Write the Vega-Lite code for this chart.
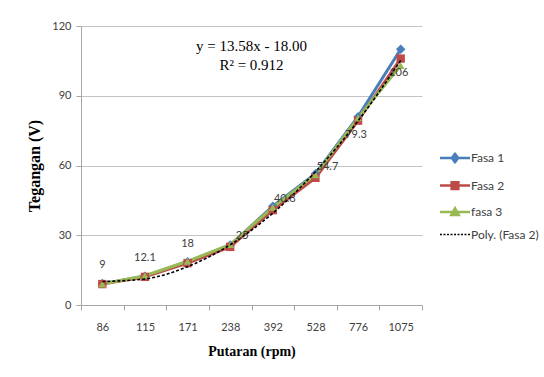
{
  "$schema": "https://vega.github.io/schema/vega-lite/v6.json",
  "width": 341,
  "height": 279,
  "autosize": {"type": "none"},
  "padding": {"left": 81, "top": 26, "right": 122, "bottom": 72},
  "background": "white",
  "config": {"view": {"stroke": null}, "font": "Lato"},
  "data": {
    "values": [
      {"rpm": "86", "series": "Fasa 1", "v": 9.2},
      {"rpm": "115", "series": "Fasa 1", "v": 12.4},
      {"rpm": "171", "series": "Fasa 1", "v": 18.6},
      {"rpm": "238", "series": "Fasa 1", "v": 25.8},
      {"rpm": "392", "series": "Fasa 1", "v": 42.5},
      {"rpm": "528", "series": "Fasa 1", "v": 56.5},
      {"rpm": "776", "series": "Fasa 1", "v": 81},
      {"rpm": "1075", "series": "Fasa 1", "v": 110},
      {"rpm": "86", "series": "Fasa 2", "v": 9},
      {"rpm": "115", "series": "Fasa 2", "v": 12.1},
      {"rpm": "171", "series": "Fasa 2", "v": 18},
      {"rpm": "238", "series": "Fasa 2", "v": 25},
      {"rpm": "392", "series": "Fasa 2", "v": 40.8},
      {"rpm": "528", "series": "Fasa 2", "v": 54.7},
      {"rpm": "776", "series": "Fasa 2", "v": 79.3},
      {"rpm": "1075", "series": "Fasa 2", "v": 106},
      {"rpm": "86", "series": "fasa 3", "v": 9},
      {"rpm": "115", "series": "fasa 3", "v": 12.6},
      {"rpm": "171", "series": "fasa 3", "v": 18.8},
      {"rpm": "238", "series": "fasa 3", "v": 26},
      {"rpm": "392", "series": "fasa 3", "v": 42},
      {"rpm": "528", "series": "fasa 3", "v": 56},
      {"rpm": "776", "series": "fasa 3", "v": 80.5},
      {"rpm": "1075", "series": "fasa 3", "v": 103},
      {"rpm": "86", "series": "Poly. (Fasa 2)", "v": 10.1},
      {"rpm": "115", "series": "Poly. (Fasa 2)", "v": 11.2},
      {"rpm": "171", "series": "Poly. (Fasa 2)", "v": 16.5},
      {"rpm": "238", "series": "Poly. (Fasa 2)", "v": 25.9},
      {"rpm": "392", "series": "Poly. (Fasa 2)", "v": 39.5},
      {"rpm": "528", "series": "Poly. (Fasa 2)", "v": 57.3},
      {"rpm": "776", "series": "Poly. (Fasa 2)", "v": 79.2},
      {"rpm": "1075", "series": "Poly. (Fasa 2)", "v": 105.2}
    ]
  },
  "encoding": {
    "x": {
      "field": "rpm",
      "type": "ordinal",
      "bandPosition": 0.5,
      "scale": {"type": "band", "domain": ["86", "115", "171", "238", "392", "528", "776", "1075"], "paddingInner": 0, "paddingOuter": 0},
      "axis": {
        "title": "Putaran (rpm)",
        "tickBand": "extent",
        "grid": false,
        "labelAngle": 0,
        "domainColor": "#a6a6a6",
        "tickColor": "#a6a6a6",
        "tickSize": 5,
        "labelPadding": 11,
        "labelFont": "Lato",
        "labelFontSize": 11,
        "labelColor": "#404040",
        "titleFont": "Liberation Serif",
        "titleFontSize": 14,
        "titleFontWeight": "bold",
        "titleColor": "#000000",
        "titlePadding": 12
      }
    },
    "y": {
      "field": "v",
      "type": "quantitative",
      "scale": {"domain": [0, 120], "nice": false},
      "axis": {
        "title": "Tegangan (V)",
        "values": [0, 30, 60, 90, 120],
        "grid": true,
        "gridColor": "#c4c4c4",
        "domainColor": "#a6a6a6",
        "tickColor": "#a6a6a6",
        "tickSize": 5,
        "labelPadding": 5,
        "labelFont": "Lato",
        "labelFontSize": 11,
        "labelColor": "#404040",
        "titleFont": "Liberation Serif",
        "titleFontSize": 16,
        "titleFontWeight": "bold",
        "titleColor": "#000000",
        "titlePadding": 9
      }
    }
  },
  "layer": [
    {
      "transform": [{"filter": "datum.series !== 'Poly. (Fasa 2)'"}],
      "mark": {"type": "line", "strokeWidth": 3},
      "encoding": {
        "color": {
          "field": "series",
          "type": "nominal",
          "scale": {
            "domain": ["Fasa 1", "Fasa 2", "fasa 3", "Poly. (Fasa 2)"],
            "range": ["#4A7EBB", "#BE4B48", "#98B954", "#000000"]
          },
          "legend": {
            "title": null,
            "orient": "none",
            "legendX": 368,
            "legendY": 126,
            "padding": 0,
            "symbolSize": 225,
            "symbolStrokeWidth": 2.5,
            "labelOffset": 10,
            "rowPadding": 8.5,
            "labelFont": "Lato",
            "labelFontSize": 12,
            "labelColor": "#404040",
            "encode": {
              "symbols": {
                "update": {
                  "shape": {"signal": "datum.value === 'Fasa 1' ? 'M-2,0L2,0M0,-0.55L0.45,0L0,0.55L-0.45,0Z' : datum.value === 'Fasa 2' ? 'M-2,0L2,0M-0.45,-0.45L0.45,-0.45L0.45,0.45L-0.45,0.45Z' : datum.value === 'fasa 3' ? 'M-2,0L2,0M0,-0.5L0.5,0.4L-0.5,0.4Z' : 'M-2,0L2,0'"},
                  "fill": {"signal": "datum.value === 'Poly. (Fasa 2)' ? 'transparent' : scale('color', datum.value)"},
                  "stroke": {"signal": "scale('color', datum.value)"},
                  "strokeWidth": {"signal": "datum.value === 'Poly. (Fasa 2)' ? 1.5 : 2.5"},
                  "strokeDash": {"signal": "datum.value === 'Poly. (Fasa 2)' ? [2, 1.5] : [1, 0]"},
                  "opacity": {"value": 1}
                }
              }
            }
          }
        }
      }
    },
    {
      "transform": [{"filter": "datum.series === 'Fasa 1'"}],
      "mark": {"type": "point", "shape": "diamond", "filled": true, "opacity": 1, "size": 90},
      "encoding": {"color": {"field": "series", "type": "nominal"}}
    },
    {
      "transform": [{"filter": "datum.series === 'Fasa 2'"}],
      "mark": {"type": "point", "shape": "square", "filled": true, "opacity": 1, "size": 70},
      "encoding": {"color": {"field": "series", "type": "nominal"}}
    },
    {
      "transform": [{"filter": "datum.series === 'fasa 3'"}],
      "mark": {"type": "point", "shape": "triangle-up", "filled": true, "opacity": 1, "size": 60},
      "encoding": {"color": {"field": "series", "type": "nominal"}}
    },
    {
      "transform": [{"filter": "datum.series === 'Poly. (Fasa 2)'"}],
      "mark": {"type": "line", "strokeWidth": 1.6, "strokeDash": [3, 2], "interpolate": "monotone"},
      "encoding": {"color": {"field": "series", "type": "nominal"}}
    },
    {
      "transform": [{"filter": "datum.series === 'Fasa 2' && indexof(['86','115','171'], datum.rpm) >= 0"}],
      "mark": {"type": "text", "dy": -19, "align": "center", "baseline": "middle", "font": "Lato", "fontSize": 11, "color": "#404040"},
      "encoding": {"text": {"field": "v", "type": "nominal"}}
    },
    {
      "transform": [{"filter": "datum.series === 'Fasa 2' && indexof(['238','392','528'], datum.rpm) >= 0"}],
      "mark": {"type": "text", "dx": 12, "dy": -11, "align": "center", "baseline": "middle", "font": "Lato", "fontSize": 11, "color": "#404040"},
      "encoding": {"text": {"field": "v", "type": "nominal"}}
    },
    {
      "transform": [{"filter": "datum.series === 'Fasa 2' && indexof(['776','1075'], datum.rpm) >= 0"}],
      "mark": {"type": "text", "dx": -2, "dy": 14, "align": "center", "baseline": "middle", "font": "Lato", "fontSize": 11, "color": "#404040"},
      "encoding": {"text": {"field": "v", "type": "nominal"}}
    },
    {
      "transform": [{"filter": "datum.series === 'Fasa 2' && datum.rpm === '238'"}],
      "mark": {"type": "text", "align": "center", "baseline": "middle", "font": "Liberation Serif", "fontSize": 15, "color": "#000000"},
      "encoding": {
        "x": {"datum": "238", "bandPosition": 1},
        "y": {"datum": 111.4},
        "text": {"value": "y = 13.58x - 18.00"}
      }
    },
    {
      "transform": [{"filter": "datum.series === 'Fasa 2' && datum.rpm === '238'"}],
      "mark": {"type": "text", "align": "center", "baseline": "middle", "font": "Liberation Serif", "fontSize": 15, "color": "#000000"},
      "encoding": {
        "x": {"datum": "238", "bandPosition": 1},
        "y": {"datum": 103.2},
        "text": {"value": "R² = 0.912"}
      }
    }
  ]
}
